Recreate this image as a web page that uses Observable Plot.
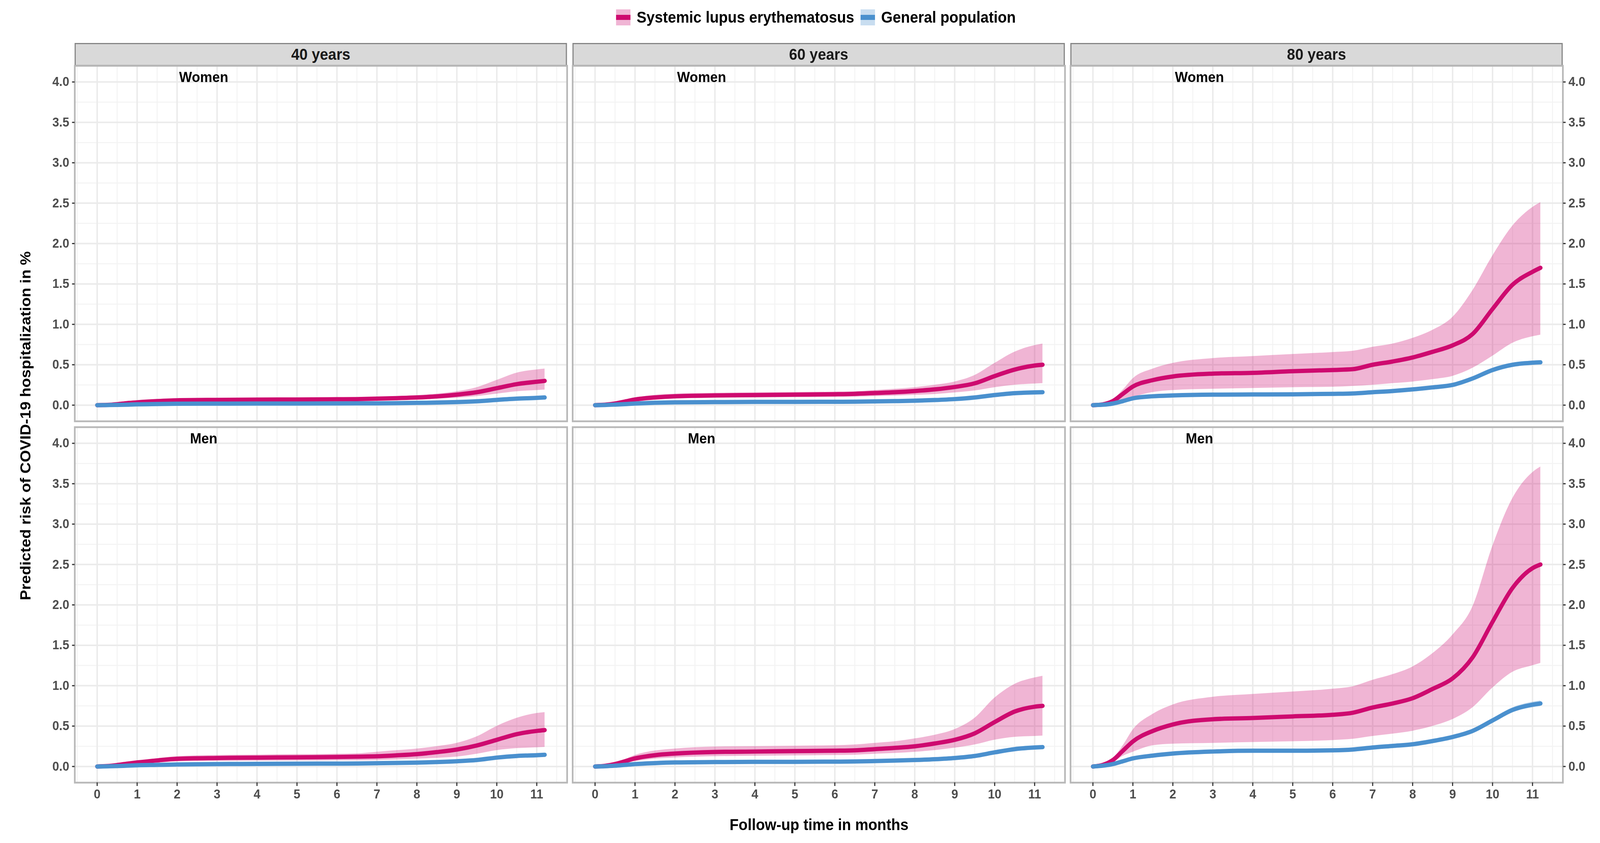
<!DOCTYPE html>
<html><head><meta charset="utf-8">
<script src="https://cdn.jsdelivr.net/npm/d3@7"></script>
<script src="https://cdn.jsdelivr.net/npm/@observablehq/plot@0.6"></script>
<style>
html,body{margin:0;padding:0;background:#fff;overflow:hidden;}
#root{position:absolute;left:0;top:0;width:4332px;height:2158px;overflow:hidden;font-family:"Liberation Sans",Arial,sans-serif;transform-origin:0 0;}
.strip{position:absolute;box-sizing:border-box;background:#D9D9D9;border:3px solid #858585;display:flex;align-items:center;justify-content:center;font-weight:bold;font-size:40px;color:#1A1A1A;}
.panel{position:absolute;}
.panel svg{max-width:none !important;display:block;}
#legend{position:absolute;left:202px;width:4031px;top:24px;height:41px;display:flex;justify-content:center;align-items:center;font-weight:bold;font-size:40px;color:#000;}
.key{position:relative;width:39px;height:41px;margin-right:17px;}
.key .ln{position:absolute;left:0;right:0;top:14px;height:13px;}
.lab{margin-right:17px;white-space:nowrap;}
#ytitle{position:absolute;left:69px;top:1090px;transform:translate(-50%,-50%) rotate(-90deg);font-weight:bold;font-size:40px;white-space:nowrap;color:#000;}
#xtitle{position:absolute;left:202px;width:4031px;top:2088px;text-align:center;font-weight:bold;font-size:40px;line-height:46px;color:#000;}
</style></head><body><div id="root"></div>
<script>
// ---- categories & tick labels ----
const ages = ["40 years", "60 years", "80 years"];
const sexes = ["Women", "Men"];
const seriesNames = ["Systemic lupus erythematosus", "General population"];
const xTicks = [0,1,2,3,4,5,6,7,8,9,10,11];
const xMinor = [-0.5,0.5,1.5,2.5,3.5,4.5,5.5,6.5,7.5,8.5,9.5,10.5,11.5];
const yTicks = [0,0.5,1,1.5,2,2.5,3,3.5,4];
const yMinor = [0.25,0.75,1.25,1.75,2.25,2.75,3.25,3.75];
const xTitle = "Follow-up time in months";
const yTitle = "Predicted risk of COVID-19 hospitalization in %";

// ---- follow-up months (x) ----
const months = [0,0.25,0.5,0.75,1,1.5,2,3,4,5,6,6.5,7,7.5,8,8.5,9,9.5,10,10.5,11,11.2];

// ---- 40 years, women ----
const sle_40_w   = [0,0.003,0.012,0.025,0.035,0.05,0.06,0.065,0.068,0.07,0.073,0.075,0.08,0.087,0.095,0.108,0.13,0.16,0.21,0.26,0.29,0.30];
const sleHi_40_w = [0,0.004,0.015,0.03,0.045,0.065,0.075,0.082,0.085,0.088,0.092,0.095,0.102,0.11,0.122,0.14,0.17,0.22,0.31,0.40,0.44,0.45];
const sleLo_40_w = [0,0.002,0.008,0.016,0.024,0.035,0.043,0.048,0.05,0.052,0.054,0.056,0.06,0.064,0.07,0.078,0.09,0.11,0.14,0.17,0.185,0.19];
const gp_40_w    = [0,0.001,0.003,0.006,0.01,0.014,0.017,0.019,0.02,0.02,0.021,0.022,0.023,0.025,0.028,0.032,0.038,0.048,0.065,0.08,0.09,0.095];
// ---- 40 years, men ----
const sle_40_m   = [0,0.005,0.018,0.035,0.05,0.075,0.095,0.105,0.11,0.113,0.118,0.122,0.126,0.138,0.153,0.178,0.21,0.26,0.33,0.40,0.44,0.45];
const sleHi_40_m = [0,0.006,0.022,0.045,0.065,0.1,0.125,0.14,0.145,0.15,0.155,0.16,0.18,0.2,0.22,0.25,0.29,0.37,0.50,0.60,0.66,0.67];
const sleLo_40_m = [0,0.003,0.012,0.024,0.035,0.052,0.062,0.068,0.07,0.072,0.074,0.075,0.078,0.085,0.095,0.105,0.12,0.155,0.2,0.225,0.235,0.24];
const gp_40_m    = [0,0.002,0.005,0.01,0.015,0.02,0.025,0.03,0.032,0.035,0.036,0.037,0.04,0.044,0.048,0.055,0.065,0.08,0.11,0.13,0.14,0.145];
// ---- 60 years, women ----
const sle_60_w   = [0,0.005,0.02,0.045,0.07,0.095,0.11,0.12,0.125,0.13,0.135,0.14,0.15,0.16,0.175,0.195,0.225,0.27,0.36,0.44,0.49,0.50];
const sleHi_60_w = [0,0.006,0.025,0.06,0.09,0.125,0.14,0.15,0.155,0.16,0.165,0.17,0.185,0.2,0.22,0.25,0.29,0.37,0.52,0.66,0.74,0.76];
const sleLo_60_w = [0,0.003,0.012,0.03,0.05,0.07,0.08,0.09,0.093,0.097,0.1,0.103,0.11,0.115,0.125,0.135,0.155,0.18,0.22,0.25,0.265,0.27];
const gp_60_w    = [0,0.002,0.007,0.013,0.02,0.03,0.035,0.038,0.04,0.04,0.042,0.043,0.046,0.05,0.055,0.063,0.075,0.095,0.125,0.148,0.158,0.16];
// ---- 60 years, men ----
const sle_60_m   = [0,0.008,0.03,0.065,0.10,0.14,0.16,0.18,0.185,0.19,0.195,0.2,0.215,0.23,0.25,0.285,0.33,0.41,0.55,0.68,0.74,0.75];
const sleHi_60_m = [0,0.01,0.04,0.09,0.14,0.195,0.22,0.245,0.25,0.255,0.26,0.27,0.29,0.31,0.345,0.39,0.46,0.6,0.85,1.02,1.10,1.12];
const sleLo_60_m = [0,0.005,0.02,0.045,0.065,0.095,0.11,0.125,0.13,0.135,0.14,0.143,0.155,0.165,0.18,0.2,0.23,0.27,0.33,0.365,0.375,0.38];
const gp_60_m    = [0,0.003,0.01,0.02,0.03,0.042,0.05,0.055,0.057,0.058,0.06,0.062,0.067,0.073,0.08,0.09,0.105,0.13,0.175,0.215,0.235,0.24];
// ---- 80 years, women ----
const sle_80_w   = [0,0.01,0.05,0.14,0.23,0.31,0.355,0.39,0.40,0.42,0.435,0.445,0.50,0.54,0.59,0.66,0.74,0.88,1.19,1.49,1.65,1.70];
const sleHi_80_w = [0,0.015,0.07,0.19,0.33,0.45,0.52,0.58,0.605,0.63,0.655,0.67,0.72,0.76,0.83,0.93,1.09,1.42,1.85,2.22,2.45,2.51];
const sleLo_80_w = [0,0.005,0.03,0.06,0.10,0.16,0.185,0.20,0.21,0.22,0.225,0.235,0.25,0.27,0.29,0.32,0.36,0.46,0.61,0.77,0.85,0.87];
const gp_80_w    = [0,0.005,0.02,0.05,0.085,0.11,0.12,0.13,0.132,0.134,0.14,0.145,0.16,0.175,0.195,0.22,0.25,0.33,0.435,0.50,0.525,0.53];
const gpLo_80_w  = [0,0.004,0.017,0.045,0.08,0.104,0.114,0.124,0.126,0.128,0.133,0.138,0.152,0.166,0.185,0.209,0.238,0.315,0.415,0.478,0.502,0.507];
const gpHi_80_w  = [0,0.006,0.023,0.055,0.09,0.116,0.126,0.136,0.138,0.14,0.147,0.152,0.168,0.184,0.205,0.231,0.262,0.345,0.455,0.522,0.548,0.553];
// ---- 80 years, men ----
const sle_80_m   = [0,0.02,0.08,0.195,0.31,0.44,0.52,0.585,0.60,0.62,0.64,0.665,0.73,0.78,0.845,0.96,1.09,1.35,1.79,2.21,2.455,2.50];
const sleHi_80_m = [0,0.02,0.10,0.26,0.455,0.65,0.765,0.86,0.895,0.925,0.96,0.99,1.07,1.14,1.235,1.40,1.63,1.98,2.73,3.32,3.64,3.71];
const sleLo_80_m = [0,0.01,0.05,0.13,0.18,0.26,0.28,0.29,0.30,0.31,0.325,0.34,0.375,0.405,0.44,0.50,0.585,0.73,0.975,1.17,1.25,1.28];
const gp_80_m    = [0,0.01,0.03,0.065,0.10,0.135,0.16,0.185,0.195,0.195,0.20,0.21,0.235,0.255,0.275,0.315,0.365,0.44,0.57,0.70,0.765,0.78];
const gpLo_80_m  = [0,0.008,0.027,0.06,0.094,0.128,0.152,0.176,0.186,0.186,0.19,0.2,0.224,0.243,0.262,0.3,0.348,0.42,0.545,0.67,0.73,0.745];
const gpHi_80_m  = [0,0.012,0.033,0.07,0.106,0.142,0.168,0.194,0.204,0.204,0.21,0.22,0.246,0.267,0.288,0.33,0.382,0.46,0.595,0.73,0.80,0.815];

// ---- assemble panels ----
const panels = [
  {age: ages[0], sex: sexes[0], sle: sle_40_w, lo: sleLo_40_w, hi: sleHi_40_w, gp: gp_40_w},
  {age: ages[1], sex: sexes[0], sle: sle_60_w, lo: sleLo_60_w, hi: sleHi_60_w, gp: gp_60_w},
  {age: ages[2], sex: sexes[0], sle: sle_80_w, lo: sleLo_80_w, hi: sleHi_80_w, gp: gp_80_w, gpLo: gpLo_80_w, gpHi: gpHi_80_w},
  {age: ages[0], sex: sexes[1], sle: sle_40_m, lo: sleLo_40_m, hi: sleHi_40_m, gp: gp_40_m},
  {age: ages[1], sex: sexes[1], sle: sle_60_m, lo: sleLo_60_m, hi: sleHi_60_m, gp: gp_60_m},
  {age: ages[2], sex: sexes[1], sle: sle_80_m, lo: sleLo_80_m, hi: sleHi_80_m, gp: gp_80_m, gpLo: gpLo_80_m, gpHi: gpHi_80_m}
];

// ---- styles ----
const PINK = "#CE0A6F", BLUE = "#4A90CE";
const FONT = "'Liberation Sans', Arial, sans-serif";
const PW = 1333, PH = 910, M = 120, MT = 10, MB = 110;
const colX = [202, 1550, 2898], rowY = [168, 1093];

const root = document.getElementById("root");

// legend
const legend = document.createElement("div");
legend.id = "legend";
[[PINK, "rgba(206,10,111,0.3)"], [BLUE, "rgba(74,144,206,0.3)"]].forEach(([c, f], i) => {
  const k = document.createElement("div"); k.className = "key"; k.style.background = f;
  const l = document.createElement("div"); l.className = "ln"; l.style.background = c; k.appendChild(l);
  const t = document.createElement("div"); t.className = "lab"; t.textContent = seriesNames[i];
  legend.appendChild(k); legend.appendChild(t);
});
root.appendChild(legend);

// strips
ages.forEach((a, c) => {
  const s = document.createElement("div"); s.className = "strip";
  s.style.left = colX[c] + "px"; s.style.top = "110px"; s.style.width = PW + "px"; s.style.height = "59px";
  s.textContent = a; root.appendChild(s);
});

// titles
const yt = document.createElement("div"); yt.id = "ytitle"; yt.textContent = yTitle; root.appendChild(yt);
const xt = document.createElement("div"); xt.id = "xtitle"; xt.textContent = xTitle; root.appendChild(xt);

const axisText = {fontSize: 33, fontWeight: "bold", fill: "#4D4D4D", stroke: "#333333", strokeWidth: 3};

panels.forEach(p => {
  const c = ages.indexOf(p.age), r = sexes.indexOf(p.sex);
  const rows = months.map((m, i) => ({
    m, sle: p.sle[i], lo: p.lo[i], hi: p.hi[i], gp: p.gp[i],
    gpLo: p.gpLo ? p.gpLo[i] : null, gpHi: p.gpHi ? p.gpHi[i] : null
  }));
  const marks = [
    Plot.ruleX(xMinor, {stroke: "#F3F3F3", strokeWidth: 2.5}),
    Plot.ruleY(yMinor, {stroke: "#F3F3F3", strokeWidth: 2.5}),
    Plot.ruleX(xTicks, {stroke: "#EBEBEB", strokeWidth: 4}),
    Plot.ruleY(yTicks, {stroke: "#EBEBEB", strokeWidth: 4}),
    Plot.areaY(rows, {x: "m", y1: "lo", y2: "hi", fill: PINK, fillOpacity: 0.3, curve: "monotone-x"}),
    p.gpLo ? Plot.areaY(rows, {x: "m", y1: "gpLo", y2: "gpHi", fill: BLUE, fillOpacity: 0.3, curve: "monotone-x"}) : null,
    Plot.lineY(rows, {x: "m", y: "sle", stroke: PINK, strokeWidth: 11, curve: "monotone-x"}),
    Plot.lineY(rows, {x: "m", y: "gp", stroke: BLUE, strokeWidth: 11, curve: "monotone-x"}),
    Plot.frame({stroke: "#B8B8B8", strokeWidth: 4.5}),
    Plot.text([p.sex], {frameAnchor: "top-left", dx: 349, dy: 30, textAnchor: "middle", lineAnchor: "middle",
      fontSize: 37, fontWeight: "bold", fill: "#000"}),
    c === 0 ? Plot.axisY(yTicks, {anchor: "left", tickFormat: d3.format(".1f"), tickSize: 7, tickPadding: 8, label: null, ...axisText}) : null,
    c === 2 ? Plot.axisY(yTicks, {anchor: "right", tickFormat: d3.format(".1f"), tickSize: 7, tickPadding: 8, label: null, ...axisText}) : null,
    r === 1 ? Plot.axisX(xTicks, {anchor: "bottom", tickFormat: d => String(d), tickSize: 9, tickPadding: 8, label: null, ...axisText}) : null
  ].filter(Boolean);
  const chart = Plot.plot({
    width: PW + 2 * M, height: PH + MT + MB,
    marginLeft: M, marginRight: M, marginTop: MT, marginBottom: MB,
    x: {domain: [-0.56, 11.76], axis: null, label: null},
    y: {domain: [-0.2, 4.2], axis: null, label: null},
    style: {fontFamily: FONT, background: "transparent", overflow: "visible", color: "#4D4D4D", maxWidth: "none"},
    marks
  });
  chart.style.maxWidth = "none";
  chart.setAttribute("width", PW + 2 * M);
  const wrap = document.createElement("div"); wrap.className = "panel";
  wrap.style.left = (colX[c] - M) + "px"; wrap.style.top = (rowY[r] - MT) + "px";
  wrap.style.width = (PW + 2 * M) + "px"; wrap.style.height = (PH + MT + MB) + "px";
  wrap.appendChild(chart); root.appendChild(wrap);
});

// fit the 4332x2158 layout to fill the actual viewport
function fit() {
  const sx = window.innerWidth / 4332, sy = window.innerHeight / 2158;
  root.style.transform = (Math.abs(sx - 1) < 0.001 && Math.abs(sy - 1) < 0.001) ? "" : `scale(${sx}, ${sy})`;
}
fit();
window.addEventListener("resize", fit);
</script></body></html>
